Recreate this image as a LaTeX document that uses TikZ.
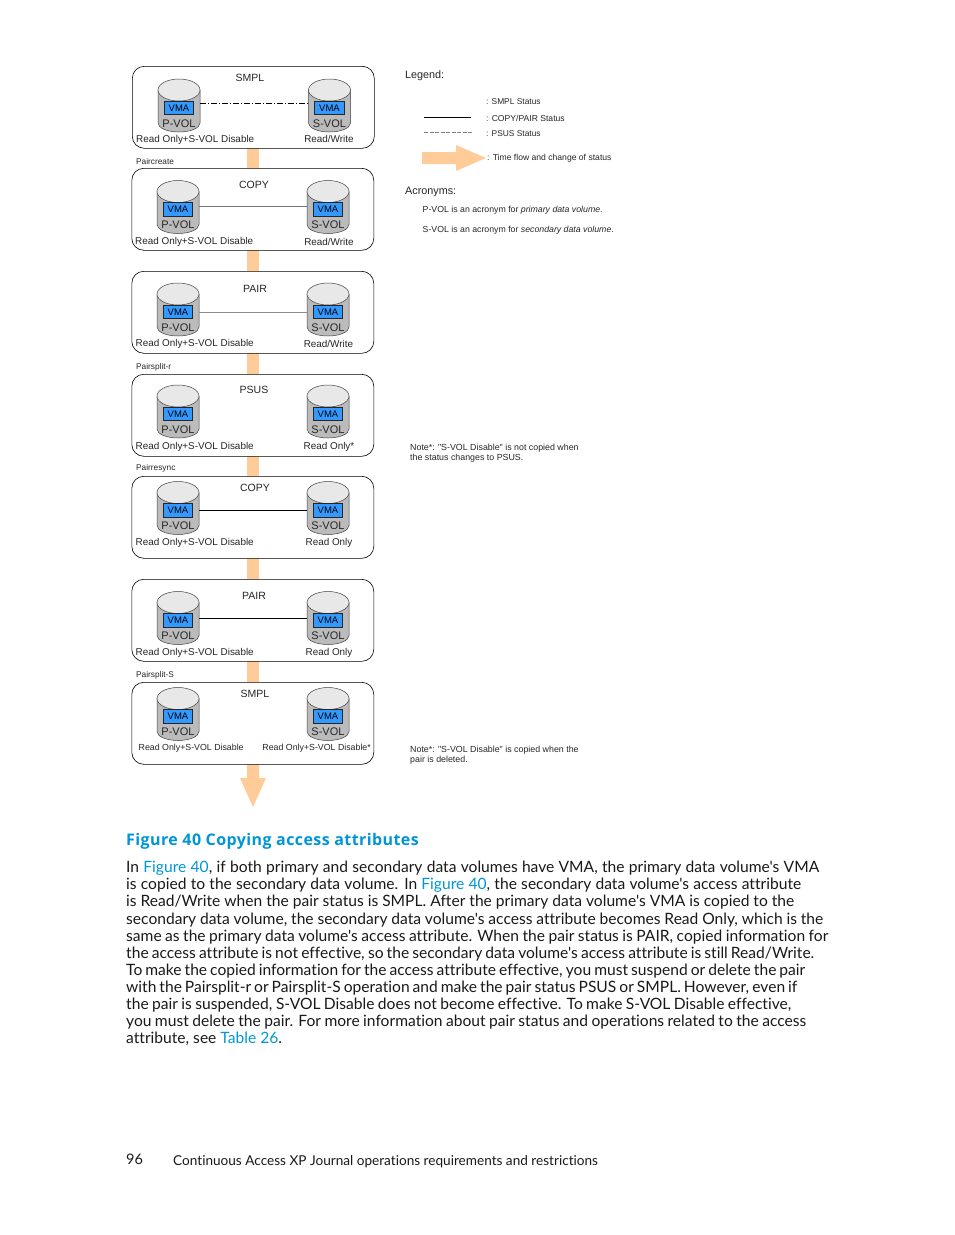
\documentclass[tikz,border=0pt]{standalone}
\usepackage{fontspec}
\newfontfamily\bodyfont{Lato}[Ligatures=NoCommon]
\newfontfamily\figfont{Liberation Sans}
\newfontfamily\headfont{Open Sans}[LetterSpace=2.6]
\definecolor{hpblue}{HTML}{0096D6}
\definecolor{flow}{HTML}{FFCC99}
\definecolor{vma}{HTML}{3399FF}
\definecolor{cylgrey}{HTML}{BBBBBB}
\definecolor{cyltop}{HTML}{E8E8E8}
\tikzset{
 x=1pt,y=-1pt,
 panelbox/.style={draw=black,rounded corners=12pt,line width=.6pt,fill=white},
 figtxt/.style={font=\figfont\fontsize{9.9}{11}\selectfont,inner sep=0pt,text=black!85},
 smalltxt/.style={font=\figfont\fontsize{8.85}{10}\selectfont,inner sep=0pt,text=black!85},
 titletxt/.style={font=\figfont\fontsize{10.5}{12}\selectfont,inner sep=0pt,text=black!85},
 voltxt/.style={font=\figfont\fontsize{11}{12}\selectfont,inner sep=0pt,text=black!85},
 vmabox/.style={draw=black!85,fill=vma,line width=.6pt,minimum width=29.5pt,minimum height=13.5pt,inner sep=0pt,font=\figfont\fontsize{9.5}{10}\selectfont},
 bodyline/.style={anchor=base west,inner sep=0pt,font=\bodyfont\fontsize{15.6}{17}\selectfont,text=black!90},
 flowbar/.style={fill=flow,draw=none},
 link/.style={line width=.6pt},
}
% #1 name prefix, #2 x of cylinder, #3 centre y of the VMA box, #4 volume label
\newcommand{\vol}[4]{%
 \fill[cylgrey,draw=black!75,line width=.5pt] (#2,#3-18) -- (#2,#3+15) arc[start angle=180,end angle=0,x radius=21,y radius=9] -- (#2+42,#3-18) -- cycle;
 \fill[cyltop,draw=black!75,line width=.5pt] (#2+21,#3-18) ellipse[x radius=21,y radius=11];
 \node[vmabox] (#1v) at (#2+21,#3) {VMA};
 \node[voltxt] (#1l) at (#2+21,#3+15.5) {#4};
 \coordinate (#1in) at (#2,#3);
 \coordinate (#1out) at (#2+42,#3);
}
% #1 prefix, #2 panel left, #3 panel top, #4 lcyl x, #5 rcyl x, #6 VMA y, #7 title, #8 title x, #9 title y
\newcommand{\panel}[9]{%
 \node[panelbox,minimum width=242pt,minimum height=82pt,anchor=north west,inner sep=0pt] (#1) at (#2,#3) {};
 \vol{#1a}{#4}{#6}{P-VOL}
 \vol{#1b}{#5}{#6}{S-VOL}
 \node[titletxt] (#1t) at (#8,#9) {#7};
}
\begin{document}
\begin{tikzpicture}
\useasboundingbox (0,0) rectangle (954,1235);
% flow bars
\fill[flowbar] (247,148) rectangle (259,168);
\fill[flowbar] (247,250) rectangle (259,271);
\fill[flowbar] (247,353) rectangle (259,374);
\fill[flowbar] (247,456) rectangle (259,476);
\fill[flowbar] (247,558) rectangle (259,579);
\fill[flowbar] (247,661) rectangle (259,682);
\fill[flowbar] (247,764) -- (259,764) -- (259,778) -- (266,778) -- (253,807) -- (240,778) -- (247,778) -- cycle;
% panels
\panel{p1}{132}{66}{158}{308.5}{108}{SMPL}{250}{77.5}
\panel{p2}{131.5}{168}{157}{307}{209.5}{COPY}{254}{184.5}
\panel{p3}{131.5}{271}{157}{307}{312}{PAIR}{255}{288.5}
\panel{p4}{131.5}{374}{157}{307}{414}{PSUS}{254}{389.5}
\panel{p5}{131.5}{476}{157}{307}{510.5}{COPY}{255}{487.5}
\panel{p6}{131.5}{579}{157}{307}{620.5}{PAIR}{254}{595.5}
\panel{p7}{131.5}{682}{157}{307}{716.5}{SMPL}{255}{693.5}
% links
\draw[link,dash pattern=on 6pt off 2pt on 1pt off 2pt] ([yshift=5pt]p1aout) -- ([yshift=5pt]p1bin);
\draw[link,black!55] ([yshift=3pt]p2aout) -- ([yshift=3pt]p2bin);
\draw[link,black!45,line width=.4pt] (p3aout) -- (p3bin);
\draw[link,black] (p5aout) -- (p5bin);
\draw[link,black,line width=1pt] ([yshift=2.5pt]p6aout) -- ([yshift=2.5pt]p6bin);
% access labels
\node[figtxt,anchor=west] (a1) at (136,140) {Read Only+S-VOL Disable};
\node[figtxt] (b1) at (329,139) {Read/Write};
\node[figtxt,anchor=west] (a2) at (135,242) {Read Only+S-VOL Disable};
\node[figtxt] (b2) at (329,242) {Read/Write};
\node[figtxt,anchor=west] (a3) at (135.5,344) {Read Only+S-VOL Disable};
\node[figtxt] (b3) at (328.5,344) {Read/Write};
\node[figtxt,anchor=west] (a4) at (135.5,447) {Read Only+S-VOL Disable};
\node[figtxt] (b4) at (329,446.5) {Read Only*};
\node[figtxt,anchor=west] (a5) at (135.5,543) {Read Only+S-VOL Disable};
\node[figtxt] (b5) at (329,543) {Read Only};
\node[figtxt,anchor=west] (a6) at (135.5,653) {Read Only+S-VOL Disable};
\node[figtxt] (b6) at (329,653) {Read Only};
\node[smalltxt,anchor=west,font=\figfont\fontsize{8.8}{10}\selectfont] (a7) at (138.5,748.5) {Read Only+S-VOL Disable};
\node[smalltxt,anchor=east,font=\figfont\fontsize{8.8}{10}\selectfont] (b7) at (371,748.5) {Read Only+S-VOL Disable*};
% operations
\node[smalltxt,anchor=west,font=\figfont\fontsize{8.3}{10}\selectfont] (o1) at (136,161.5) {Paircreate};
\node[smalltxt,anchor=west,font=\figfont\fontsize{8.3}{10}\selectfont] (o2) at (136,367) {Pairsplit-r};
\node[smalltxt,anchor=west,font=\figfont\fontsize{8.3}{10}\selectfont] (o3) at (136,468.5) {Pairresync};
\node[smalltxt,anchor=west,font=\figfont\fontsize{8.3}{10}\selectfont] (o4) at (136,675.5) {Pairsplit-S};
% legend
\node[titletxt,anchor=west,font=\figfont\fontsize{10.8}{12}\selectfont] (lg) at (405,75.5) {Legend:};
\node[smalltxt,anchor=west,font=\figfont\fontsize{8.4}{10}\selectfont] (l1) at (486,101.5) {: SMPL Status};
\node[smalltxt,anchor=west,font=\figfont\fontsize{8.6}{10}\selectfont] (l2) at (486,118) {: COPY/PAIR Status};
\node[smalltxt,anchor=west,font=\figfont\fontsize{8.4}{10}\selectfont] (l3) at (486,133.5) {: PSUS Status};
\coordinate (s2a) at (424,117.5); \coordinate (s2b) at (471,117.5);
\draw[black,line width=.7pt] (s2a) -- (s2b);
\coordinate (s3a) at (424,132); \coordinate (s3b) at (472,132);
\draw[black!50,line width=.5pt,dash pattern=on 4pt off 1.5pt] (s3a) -- (s3b);
\fill[flowbar] (422,152) -- (456,152) -- (456,145) -- (486,158) -- (456,171) -- (456,164) -- (422,164) -- cycle;
\node[smalltxt,anchor=west,font=\figfont\fontsize{8.6}{10}\selectfont] (l4) at (487,158.5) {: Time flow and change of status};
\node[titletxt,anchor=west,font=\figfont\fontsize{10.8}{12}\selectfont] (ac) at (405,191.5) {Acronyms:};
\node[smalltxt,anchor=west,font=\figfont\fontsize{8.75}{10}\selectfont] (c1) at (422.5,210.5) {P-VOL is an acronym for {\fontspec{Liberation Sans Italic}primary data volume}.};
\node[smalltxt,anchor=west,font=\figfont\fontsize{8.75}{10}\selectfont] (c2) at (422.5,230.5) {S-VOL is an acronym for {\fontspec{Liberation Sans Italic}secondary data volume}.};
% notes
\node[smalltxt,anchor=west] (n1) at (410,448) {Note*: "S-VOL Disable" is not copied when};
\node[smalltxt,anchor=west] (n2) at (410,458.5) {the status changes to PSUS.};
\node[smalltxt,anchor=west] (n3) at (410,750) {Note*: "S-VOL Disable" is copied when the};
\node[smalltxt,anchor=west] (n4) at (410,760.5) {pair is deleted.};
% caption
\node[anchor=base west,inner sep=0pt,text=hpblue,font=\headfont\bfseries\fontsize{16}{18}\selectfont] (cap) at (126,845) {Figure 40 Copying access attributes};
% body
\newcommand{\bl}[3]{\node[bodyline] at (126,#1) {\makebox[#2pt][s]{#3}};}
\bl{872.5}{693}{In \textcolor{hpblue}{Figure 40}, if both primary and secondary data volumes have VMA, the primary data volume's VMA}
\bl{889.5}{675}{is copied to the secondary data volume. In \textcolor{hpblue}{Figure 40}, the secondary data volume's access attribute}
\bl{906.5}{668}{is Read/Write when the pair status is SMPL. After the primary data volume's VMA is copied to the}
\bl{924}{697}{secondary data volume, the secondary data volume's access attribute becomes Read Only, which is the}
\bl{941}{702}{same as the primary data volume's access attribute. When the pair status is PAIR, copied information for}
\bl{958}{688}{the access attribute is not effective, so the secondary data volume's access attribute is still Read/Write.}
\bl{975.5}{679}{To make the copied information for the access attribute effective, you must suspend or delete the pair}
\bl{992.5}{671}{with the Pairsplit-r or Pairsplit-S operation and make the pair status PSUS or SMPL. However, even if}
\bl{1009.5}{665}{the pair is suspended, S-VOL Disable does not become effective. To make S-VOL Disable effective,}
\bl{1026.5}{680}{you must delete the pair. For more information about pair status and operations related to the access}
\node[bodyline] (lastl) at (126,1043.5) {attribute, see \textcolor{hpblue}{Table 26}.};
% footer
\node[bodyline,font=\bodyfont\fontsize{14.5}{17}\selectfont] (pg) at (126,1164) {96};
\node[bodyline,font=\bodyfont\fontsize{13.6}{17}\selectfont] (ft) at (173,1165) {Continuous Access XP Journal operations requirements and restrictions};
\end{tikzpicture}
\end{document}
